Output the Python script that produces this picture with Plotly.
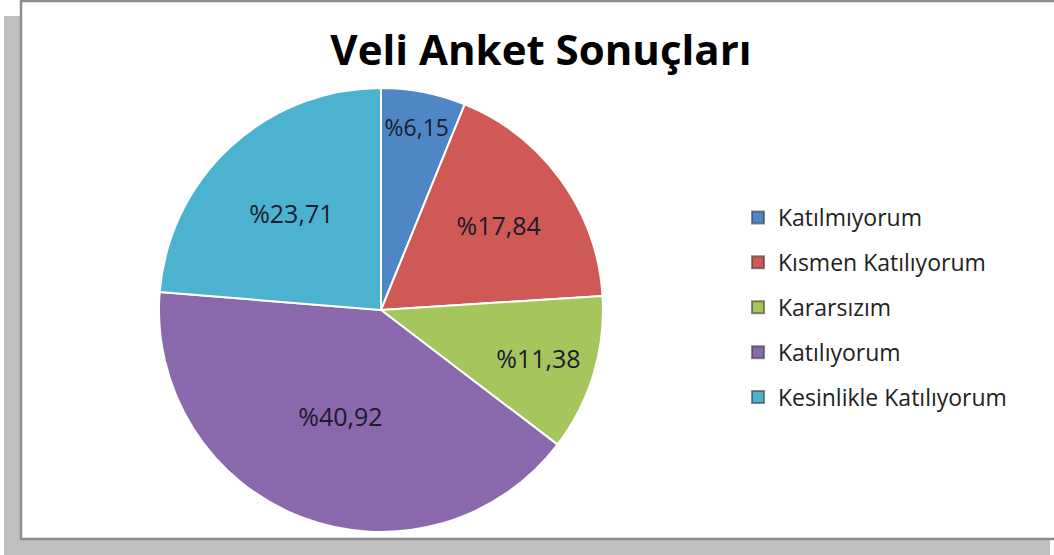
import plotly.graph_objects as go

# ---- data ----
categories = ["Katılmıyorum", "Kısmen Katılıyorum", "Kararsızım", "Katılıyorum", "Kesinlikle Katılıyorum"]
values = [6.15, 17.84, 11.38, 40.92, 23.71]
colors = ["#4F86C6", "#CF5955", "#A5C55D", "#8968AC", "#4BB3D0"]
title_text = "Veli Anket Sonuçları"

W, H = 1054, 555
FONT = "Open Sans, Noto Sans, DejaVu Sans, sans-serif"

def px(x):
    return x / W

def py(y):
    return 1 - y / H

labels_txt = ["%" + f"{v:.2f}".replace(".", ",") for v in values]

cx, cy, r = 381, 310, 222

fig = go.Figure()
fig.add_trace(go.Pie(
    labels=categories,
    values=values,
    text=labels_txt,
    textinfo="text",
    textposition="inside",
    insidetextorientation="horizontal",
    textfont=dict(family=FONT, size=25, color="#1b1b2b"),
    marker=dict(colors=colors, line=dict(color="white", width=2)),
    sort=False,
    direction="clockwise",
    rotation=0,
    showlegend=False,
    domain=dict(x=[px(cx - r), px(cx + r)], y=[py(cy + r), py(cy - r)]),
    hoverinfo="label+percent",
))

# legend entries (one per category)
for i, (cat, col) in enumerate(zip(categories, colors)):
    fig.add_trace(go.Scatter(
        x=[None], y=[None], mode="markers", name=cat,
        legendgroup=f"g{i}",
        marker=dict(symbol="square", size=11, color=col,
                    line=dict(color="rgba(60,60,60,0.6)", width=1)),
    ))

shapes = [
    # drop shadow
    dict(type="rect", xref="paper", yref="paper",
         x0=px(4), x1=px(1050), y0=py(556), y1=py(16),
         fillcolor="#C0C0C0", line=dict(width=0), layer="below"),
    # chart area
    dict(type="rect", xref="paper", yref="paper",
         x0=px(21), x1=px(1060), y0=py(539), y1=py(1),
         fillcolor="white", line=dict(color="#8C8C8C", width=2.5), layer="below"),
]

fig.update_layout(
    width=W, height=H,
    margin=dict(l=0, r=0, t=0, b=0),
    paper_bgcolor="white",
    plot_bgcolor="rgba(0,0,0,0)",
    xaxis=dict(visible=False),
    yaxis=dict(visible=False),
    shapes=shapes,
    title=dict(text=f"<b>{title_text}</b>", x=px(541), y=py(50),
               xanchor="center", yanchor="middle",
               font=dict(family=FONT, size=42, color="black")),
    legend=dict(x=px(738), y=py(196), xanchor="left", yanchor="top",
                font=dict(family=FONT, size=23, color="#222222"),
                tracegroupgap=12, itemsizing="constant",
                bgcolor="rgba(0,0,0,0)"),
)

fig.write_html(
    "out.html",
    config={"displayModeBar": False},
    post_script="document.body.style.margin='0';document.body.style.overflow='hidden';",
)
